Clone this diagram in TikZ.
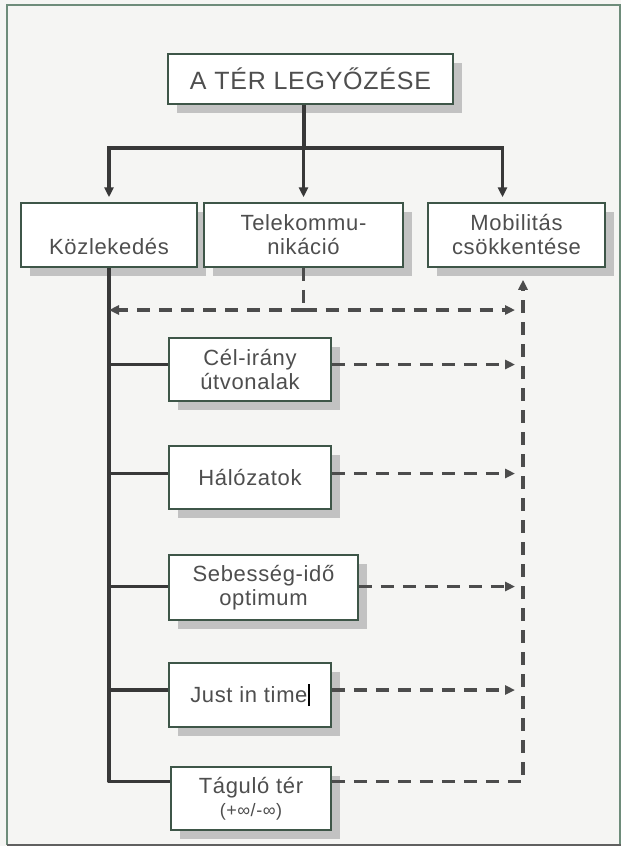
\documentclass[tikz,border=0pt]{standalone}
\usepackage{fontspec}
\setmainfont{Liberation Sans}
\newfontfamily\boxfont[LetterSpace=3]{Liberation Sans}
\usetikzlibrary{arrows.meta,shadows}
\definecolor{bgc}{HTML}{F5F5F3}
\definecolor{framec}{HTML}{6E8C7A}
\definecolor{boxc}{HTML}{3E5648}
\definecolor{linec}{HTML}{383838}
\definecolor{txtc}{HTML}{4E4E4E}
\definecolor{shadowc}{HTML}{C2C2C2}
\tikzset{
  box/.style={draw=boxc, line width=1.5pt, fill=white, text=txtc, align=center, inner sep=0pt,
    font=\boxfont\fontsize{22}{24}\selectfont,
    drop shadow={shadow xshift=9pt, shadow yshift=-9pt, fill=shadowc, opacity=1}},
  solidcon/.style={draw=linec, line width=3.2pt},
  dashcon/.style={draw=linec!90, line width=3.2pt, dash pattern=on 13pt off 9pt},
  tip/.style={-{Triangle[length=10pt,width=9pt]}}
}
\begin{document}
\begin{tikzpicture}[x=1pt,y=-1pt]
\fill[bgc] (0,0) rectangle (621,846);
\useasboundingbox (0,0) rectangle (621,846);
\draw[framec, line width=1.4pt] (7,845) -- (7,5) -- (620,5) -- (620,845);
\draw[linec!80, line width=2pt] (7,845) -- (621,845);

% nodes
\node[box, minimum width=285pt, minimum height=50pt, font=\boxfont\fontsize{25}{28}\selectfont] (title) at (310.5,79) {A TÉR LEGYŐZÉSE};
\node[box, minimum width=176pt, minimum height=64pt] (koz) at (109,235) {\phantom{X}\\Közlekedés};
\node[box, minimum width=199pt, minimum height=64pt] (tel) at (303.5,235) {Telekommu-\\nikáció};
\node[box, minimum width=177pt, minimum height=64pt] (mob) at (516.5,235) {Mobilitás\\csökkentése};
\node[box, minimum width=162pt, minimum height=63pt] (cel) at (250,369.5) {Cél-irány\\útvonalak};
\node[box, minimum width=162pt, minimum height=63pt] (hal) at (250,477.5) {Hálózatok};
\node[box, minimum width=189pt, minimum height=65pt] (seb) at (263.5,587.5) {Sebesség-idő\\optimum};
\node[box, minimum width=162pt, minimum height=64pt] (just) at (250,695) {Just in time{\color{black}\rule[-4pt]{2.2pt}{22pt}}};
\node[box, minimum width=160pt, minimum height=63pt] (tag) at (251,798.5) {Táguló tér\\[-1pt]{\fontsize{18}{20}\selectfont(+∞/-∞)}};

% top tree
\coordinate (tt) at ([xshift=-6.5pt]title.south);
\coordinate (hy) at (304,148);
\coordinate (mobtop) at ([xshift=-14pt]mob.north);
\draw[solidcon] (tt) -- (tt |- hy);
\draw[solidcon, line cap=rect] (koz.north |- hy) -- (mobtop |- hy);
\draw[solidcon, tip, shorten >=5pt] (koz.north |- hy) -- (koz.north);
\draw[solidcon, tip, shorten >=5pt] (tel.north |- hy) -- (tel.north);
\draw[solidcon, tip, shorten >=5pt] (mobtop |- hy) -- (mobtop);

% trunk and branches
\coordinate (celw) at ([yshift=5pt]cel.west);
\coordinate (halw) at ([yshift=4pt]hal.west);
\coordinate (sebw) at ([yshift=1pt]seb.west);
\coordinate (justw) at ([yshift=5pt]just.west);
\coordinate (tagw) at ([yshift=17pt]tag.west);
\draw[solidcon, line join=round] (koz.south) |- (tagw);
\draw[solidcon] (koz.south |- celw) -- (celw);
\draw[solidcon] (koz.south |- halw) -- (halw);
\draw[solidcon] (koz.south |- sebw) -- (sebw);
\draw[solidcon] (koz.south |- justw) -- (justw);

% dashed connectors
\coordinate (ends) at (515,0);
\coordinate (mobin) at ([xshift=6.5pt,yshift=-12pt]mob.south);
\coordinate (tj) at (tel.south |- 0,310);
\draw[dashcon] (tel.south) -- (tj);
\draw[dashcon, tip] (tj) -- (koz.south |- tj);
\draw[dashcon, tip] (tj) -- (ends |- tj);
\draw[dashcon, tip] (cel.east |- celw) -- (ends |- celw);
\draw[dashcon, tip] (hal.east |- halw) -- (ends |- halw);
\draw[dashcon, tip] (seb.east |- sebw) -- (ends |- sebw);
\draw[dashcon, tip] (just.east |- justw) -- (ends |- justw);
\draw[dashcon, tip] (tag.east |- tagw) -| (mobin);
\end{tikzpicture}
\end{document}
